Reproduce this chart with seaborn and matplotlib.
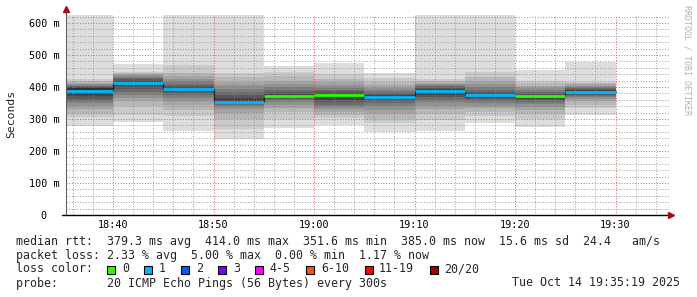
import numpy as np
import pandas as pd
import matplotlib
matplotlib.use("Agg")
import matplotlib.pyplot as plt
import seaborn as sns
from matplotlib.patches import Rectangle
from matplotlib.ticker import FixedLocator, FuncFormatter

# ---------------- data ----------------
bin_start = ["18:35", "18:40", "18:45", "18:50", "18:55", "19:00",
             "19:05", "19:10", "19:15", "19:20", "19:25"]
median_ms = [388, 414, 393, 352, 371, 375, 368, 388, 374, 373, 385]
loss_idx = [1, 1, 1, 1, 0, 0, 1, 1, 1, 0, 1]

pings_1835 = [279, 307, 315, 330, 340, 350, 356, 362, 372, 386, 396, 399, 401, 403, 406, 409, 413, 419, 425, 640]
pings_1840 = [292, 312, 340, 355, 365, 375, 385, 395, 402, 410, 416, 420, 424, 428, 432, 436, 440, 444, 448, 472]
pings_1845 = [263, 309, 328, 345, 355, 365, 375, 382, 386, 390, 396, 400, 404, 410, 418, 425, 435, 443, 469, 640]
pings_1850 = [237, 268, 300, 318, 330, 338, 344, 348, 352, 356, 360, 366, 375, 385, 395, 405, 415, 430, 443, 640]
pings_1855 = [273, 300, 322, 335, 345, 352, 358, 362, 366, 369, 374, 378, 385, 392, 400, 410, 420, 435, 448, 466]
pings_1900 = [281, 302, 312, 322, 330, 338, 345, 352, 360, 370, 378, 382, 386, 392, 398, 405, 415, 425, 440, 476]
pings_1905 = [260, 286, 300, 315, 328, 340, 350, 356, 362, 366, 370, 374, 378, 384, 390, 398, 406, 415, 428, 443]
pings_1910 = [263, 297, 315, 330, 342, 352, 360, 368, 376, 384, 390, 394, 398, 402, 406, 410, 414, 418, 425, 640]
pings_1915 = [288, 310, 322, 333, 342, 350, 356, 362, 367, 372, 376, 380, 385, 392, 400, 410, 420, 432, 448, 640]
pings_1920 = [276, 300, 315, 328, 338, 346, 352, 358, 364, 368, 372, 376, 380, 385, 390, 396, 404, 412, 420, 453]
pings_1925 = [312, 333, 345, 355, 362, 368, 372, 376, 380, 383, 387, 390, 393, 396, 400, 404, 408, 412, 417, 479]

loss_labels = ["0", "1", "2", "3", "4-5", "6-10", "11-19", "20/20"]
loss_colors = ["#26ff00", "#00b8ff", "#0059ff", "#7e00ff",
               "#ff00ff", "#ff5500", "#ff0000", "#a00000"]

y_tick_values = [0, 100, 200, 300, 400, 500, 600]
y_tick_labels = ["0  ", "100 m", "200 m", "300 m", "400 m", "500 m", "600 m"]

line_rtt = "median rtt:  379.3 ms avg  414.0 ms max  351.6 ms min  385.0 ms now  15.6 ms sd  24.4   am/s"
line_loss = "packet loss: 2.33 % avg  5.00 % max  0.00 % min  1.17 % now"
line_probe = "probe:       20 ICMP Echo Pings (56 Bytes) every 300s"
stamp = "Tue Oct 14 19:35:19 2025"

# ---------------- setup ----------------
sns.set_style("white")
plt.rcParams["font.family"] = ["DejaVu Sans Mono", "DejaVu Sans"]

W, H = 697, 297
fig = plt.figure(figsize=(W / 100, H / 100), dpi=100, facecolor="white")


def fx(x):
    return x / W


def fy(y):
    return 1 - y / H


ax = fig.add_axes([fx(66), fy(215), 603 / W, 200 / H])
ax.set_facecolor("white")


def to_min(s):
    h, m = s.split(":")
    return int(h) * 60 + int(m) - 18 * 60


starts = np.array([to_min(s) for s in bin_start], float)
edges = np.append(starts, starts[-1] + 5)
P = np.sort(np.array([pings_1835, pings_1840, pings_1845, pings_1850, pings_1855,
                      pings_1900, pings_1905, pings_1910, pings_1915, pings_1920,
                      pings_1925], float), axis=1)

# smoke bands
n = P.shape[1]
half = n // 2
for i in range(half):
    g = int(190 / half * (half - (i + 1))) + 50
    lo = np.append(P[:, i], P[-1, i])
    hi = np.append(P[:, n - 1 - i], P[-1, n - 1 - i])
    ax.fill_between(edges, lo, hi, step="post", color=f"#{g:02x}{g:02x}{g:02x}",
                    lw=0, antialiased=False, zorder=1)

# median step line (dark) via seaborn
df = pd.DataFrame({"t": edges, "rtt": np.append(median_ms, median_ms[-1])})
sns.lineplot(data=df, x="t", y="rtt", drawstyle="steps-post", color="#202020",
             lw=0.9, ax=ax, zorder=4, legend=False)

# loss-coloured medians
ax.hlines(median_ms, starts, starts + 5, colors=[loss_colors[c] for c in loss_idx],
          lw=2.0, zorder=5)

# axes limits
t0 = 35 + 19 / 60
ax.set_xlim(t0, t0 + 60)
ax.set_ylim(0, 625)
ax.set_xlabel("")
ax.set_ylabel("")

# grid
major_x = np.arange(40, 95, 10)
minor_x = [v for v in np.arange(36, 96, 2) if v % 10 != 0]
minor_y = [v for v in np.arange(20, 640, 20) if v % 100 != 0]
ax.xaxis.set_major_locator(FixedLocator(major_x))
ax.xaxis.set_minor_locator(FixedLocator(minor_x))
ax.yaxis.set_major_locator(FixedLocator(y_tick_values))
ax.yaxis.set_minor_locator(FixedLocator(minor_y))
ax.set_yticklabels(y_tick_labels)
ax.xaxis.set_major_formatter(FuncFormatter(lambda v, p: f"{18 + int(v) // 60}:{int(v) % 60:02d}"))

ax.set_axisbelow(False)
ax.grid(which="minor", color=(0.55, 0.55, 0.55, 0.22), linestyle=(0, (1, 2)), lw=0.65)
ax.grid(which="major", color=(0.95, 0.25, 0.25, 0.35), linestyle=(0, (1, 2)), lw=0.65)

for s in ax.spines.values():
    s.set_visible(False)

ax.tick_params(axis="both", which="major", labelsize=7.3, labelcolor="#000000",
               length=2.5, width=0.7, direction="out", color="#909090")
ax.tick_params(axis="both", which="minor", length=1.5, width=0.7, direction="out",
               color="#a0a0a0")
ax.tick_params(axis="x", which="major", pad=1.2)
ax.tick_params(axis="y", which="major", pad=2.2)

# axis lines and arrows
ax.plot([0, 0], [0, 1.025], transform=ax.transAxes, clip_on=False, color="#606060",
        lw=0.8, zorder=6)
ax.plot([-0.006, 1.0], [0, 0], transform=ax.transAxes, clip_on=False, color="black",
        lw=1.0, zorder=6)
ax.plot([0], [1.028], transform=ax.transAxes, clip_on=False, marker="^", ms=4,
        color="#a01010", mec="#a01010", zorder=7)
ax.plot([1.004], [0], transform=ax.transAxes, clip_on=False, marker=">", ms=4,
        color="#a01010", mec="#a01010", zorder=7)

# y label
fig.text(fx(11), fy(114), "Seconds", rotation=90, ha="center", va="center", fontsize=8.2)

# watermark
fig.text(fx(687), fy(60), "RRDTOOL / TOBI OETIKER", rotation=270, ha="center",
         va="center", fontsize=6.0, color="#b0b0b0")

# legend text
fs = 8.4
fig.text(fx(16), fy(241), line_rtt, ha="left", va="center", fontsize=fs)
fig.text(fx(16), fy(255), line_loss, ha="left", va="center", fontsize=fs)
fig.text(fx(16), fy(269), "loss color:", ha="left", va="center", fontsize=fs)
fig.text(fx(16), fy(283), line_probe, ha="left", va="center", fontsize=fs)
fig.text(fx(680), fy(283), stamp, ha="right", va="center", fontsize=fs)

char_w = 7.02
bx = 107.3
for lab, col in zip(loss_labels, loss_colors):
    fig.patches.append(Rectangle((fx(bx), fy(273.5)), 8 / W, 8 / H,
                                 transform=fig.transFigure, fc=col, ec="black",
                                 lw=0.8, figure=fig))
    fig.text(fx(bx + 14.5), fy(269), lab, ha="left", va="center", fontsize=fs)
    bx += 14.5 + len(lab) * char_w + 15.5

fig.savefig("out.png", dpi=100, facecolor="white")
